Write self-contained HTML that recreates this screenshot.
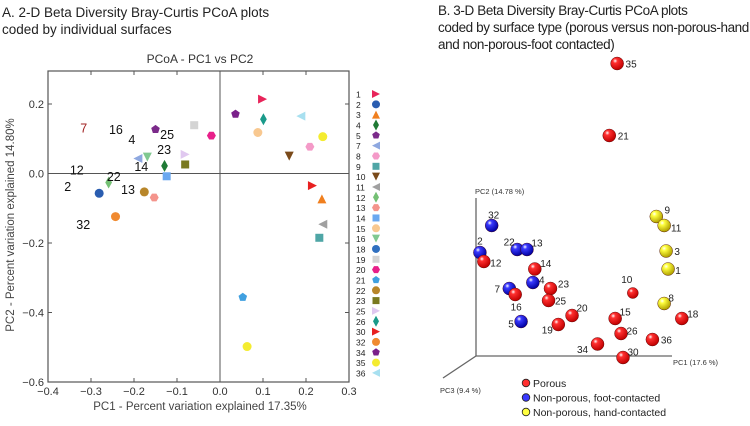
<!DOCTYPE html>
<html><head><meta charset="utf-8">
<style>
html,body{margin:0;padding:0;background:#fff;}
body{width:750px;height:426px;overflow:hidden;position:relative;font-family:"Liberation Sans",sans-serif;}
.hd{position:absolute;font-size:13.5px;color:#222;line-height:17px;white-space:nowrap;}
</style></head>
<body>
<div class="hd" style="left:2px;top:4px;">A. 2-D Beta Diversity Bray-Curtis PCoA plots<br>coded by individual surfaces</div>
<div class="hd" style="left:438px;top:2px;letter-spacing:-0.4px;">B. 3-D Beta Diversity Bray-Curtis PCoA plots<br>coded by surface type (porous versus non-porous-hand<br>and non-porous-foot contacted)</div>
<svg id="chart" width="750" height="426" style="position:absolute;left:0;top:0" xmlns="http://www.w3.org/2000/svg"></svg>
<script>
// ---------- Panel A data ----------
const aIds = ["1","34","26","36","15","35","8","10","30","3","11","9","21","35b","5","19","20","7","16","4","25","23","14","12","2","22","13","32"];
const aPC1 = [0.099,0.036,0.101,0.188,0.088,0.239,0.209,0.161,0.215,0.237,0.239,0.231,0.053,0.063,-0.150,-0.060,-0.020,-0.191,-0.169,-0.129,-0.081,-0.081,-0.124,-0.259,-0.281,-0.176,-0.153,-0.243];
const aPC2 = [0.214,0.171,0.156,0.165,0.118,0.106,0.077,0.050,-0.035,-0.073,-0.146,-0.185,-0.356,-0.498,0.127,0.139,0.109,0.043,0.047,0.022,0.055,0.026,-0.008,-0.026,-0.057,-0.053,-0.069,-0.124];
const xTicks = [-0.4,-0.3,-0.2,-0.1,0.0,0.1,0.2,0.3];
const xTickLabels = ["\u22120.4","\u22120.3","\u22120.2","\u22120.1","0.0","0.1","0.2","0.3"];
const yTicks = [0.2,0.0,-0.2,-0.4,-0.6];
const yTickLabels = ["0.2","0.0","\u22120.2","\u22120.4","\u22120.6"];
const legendIds = ["1","2","3","4","5","7","8","9","10","11","12","13","14","15","16","18","19","20","21","22","23","25","26","30","32","34","35","36"];
const textLabels = ["7","16","4","25","23","14","12","22","2","13","32"];
const textLabelPC1 = [-0.317,-0.242,-0.205,-0.123,-0.130,-0.183,-0.333,-0.247,-0.354,-0.214,-0.318];
const textLabelPC2 = [0.133,0.128,0.100,0.113,0.070,0.022,0.011,-0.007,-0.036,-0.045,-0.146];
// ---------- Panel B data ----------
const bIds = ["32","2","12","22","13","14","4","23","7","16","25","5","20","19","10","15","26","34","30","36","18","9","11","3","1","8","35","21"];
const bPC1 = [8,2,4,21,26,30,29,38,17,20,37,23,49,42,80,71,74,62,75,90,105,92,96,97,98,96,72,68];
const bPC2 = [87,69,63,71,71,58,49,45,45,41,37,23,27,21,42,25,15,8,-1,11,25,93,87,70,58,35,195,147];
const bGroup = ["F","F","P","F","F","P","F","P","F","P","P","F","P","P","P","P","P","P","P","P","P","H","H","H","H","H","P","P"];
const groupNames = ["Porous","Non-porous,  foot-contacted","Non-porous,  hand-contacted"];
const groupKeys = ["P","F","H"];

// ---------- styles (not data) ----------
const styleMap = {
 "1":["#e8245a","tr"],"2":["#2a5db0","c"],"3":["#f07f1e","tu"],"4":["#1f7a35","d"],"5":["#7b2a8a","p"],
 "7":["#8ea8e0","tl"],"8":["#f49ac8","h"],"9":["#4fa6a6","s"],"10":["#7a4a1a","td"],"11":["#a0a0a0","tl"],
 "12":["#74c074","d"],"13":["#f4948c","h"],"14":["#6aa8f0","s"],"15":["#f8c890","c"],"16":["#80c890","td"],
 "18":["#3070c0","c"],"19":["#d4d4d4","s"],"20":["#e8208a","h"],"21":["#40a0e0","p"],"22":["#b8862a","c"],
 "23":["#7a7a20","s"],"25":["#e0c8f0","tr"],"26":["#1a9a8a","d"],"30":["#e82020","tr"],"32":["#f08a30","c"],
 "34":["#7a208a","p"],"35":["#f4ec30","c"],"35b":["#f4ec30","c"],"36":["#a8e0f0","tl"]
};
const groupColor = {P:["#ff3030","#c00000"],F:["#3a3aff","#0000a0"],H:["#ffff40","#b0a000"]};
const NS="http://www.w3.org/2000/svg";
const svg=document.getElementById('chart');
function mk(tag,attrs,parent){const e=document.createElementNS(NS,tag);for(const k in attrs)e.setAttribute(k,attrs[k]);(parent||svg).appendChild(e);return e;}

const defs=mk('defs',{});
for(const g of groupKeys){
 const rg=mk('radialGradient',{id:'g'+g,cx:'35%',cy:'30%',r:'70%'},defs);
 mk('stop',{offset:'0%','stop-color':'#ffffff'},rg);
 mk('stop',{offset:'25%','stop-color':groupColor[g][0]},rg);
 mk('stop',{offset:'100%','stop-color':groupColor[g][1]},rg);
}

// ---------- Panel A axes ----------
const ax=v=>220+v*430;
const ay=v=>173.5-v*347.5;
const L=ax(-0.4),R=ax(0.3),T=71,B=ay(-0.6);
const frame=mk('rect',{x:L,y:T,width:R-L,height:B-T,fill:'none',stroke:'#555','stroke-width':1.2});


const zx=mk('line',{x1:ax(0),x2:ax(0),y1:T,y2:B,stroke:'#555','stroke-width':1});


const zy=mk('line',{x1:L,x2:R,y1:ay(0),y2:ay(0),stroke:'#555','stroke-width':1});


xTicks.forEach((v,i)=>{
 const x=ax(v);
 mk('line',{x1:x,x2:x,y1:B,y2:B-4,stroke:'#555'});
 mk('line',{x1:x,x2:x,y1:T,y2:T+4,stroke:'#555'});
 const t=mk('text',{x:x,y:B+13,'font-size':11,'text-anchor':'middle',fill:'#333'});
 t.textContent=xTickLabels[i];
 
 
});
yTicks.forEach((v,i)=>{
 const y=ay(v);
 mk('line',{x1:L,x2:L+4,y1:y,y2:y,stroke:'#555'});
 mk('line',{x1:R,x2:R-4,y1:y,y2:y,stroke:'#555'});
 const t=mk('text',{x:L-4,y:y+4,'font-size':11,'text-anchor':'end',fill:'#333'});
 t.textContent=yTickLabels[i];
 
 
});
let t=mk('text',{x:200,y:63,'font-size':12,'text-anchor':'middle',fill:'#333'});
t.textContent='PCoA - PC1 vs PC2';


t=mk('text',{x:200,y:410,'font-size':11.5,'text-anchor':'middle',fill:'#444'});
t.textContent='PC1 - Percent variation explained 17.35%';


t=mk('text',{x:0,y:0,'font-size':11.5,'text-anchor':'middle',fill:'#444',transform:'translate(14,225) rotate(-90)'});
t.textContent='PC2 - Percent variation explained 14.80%';



function marker(x,y,col,shape,s,parent){
 s=s||4.5;
 let e;
 if(shape==='c') e=mk('circle',{cx:x,cy:y,r:s},parent);
 else if(shape==='s') e=mk('rect',{x:x-s+0.5,y:y-s+0.5,width:2*s-1,height:2*s-1},parent);
 else {
  let pts;
  if(shape==='tr') pts=[[x-s,y-s],[x+s,y],[x-s,y+s]];
  else if(shape==='tl') pts=[[x+s,y-s],[x-s,y],[x+s,y+s]];
  else if(shape==='tu') pts=[[x-s,y+s],[x,y-s],[x+s,y+s]];
  else if(shape==='td') pts=[[x-s,y-s],[x,y+s],[x+s,y-s]];
  else if(shape==='d') pts=[[x,y-s-1.5],[x+s*0.75,y],[x,y+s+1.5],[x-s*0.75,y]];
  else if(shape==='p'){pts=[];for(let k=0;k<5;k++){const a=-Math.PI/2+k*2*Math.PI/5;pts.push([x+s*Math.cos(a),y+s*Math.sin(a)]);}}
  else {pts=[];for(let k=0;k<6;k++){const a=k*Math.PI/3;pts.push([x+s*Math.cos(a),y+s*Math.sin(a)]);}}
  e=mk('polygon',{points:pts.map(p=>p.join(',')).join(' ')},parent);
 }
 e.setAttribute('fill',col);
 return e;
}
aIds.forEach((id,i)=>{
 const st=styleMap[id];
 const m=marker(ax(aPC1[i]),ay(aPC2[i]),st[0],st[1]);
 
 
});
textLabels.forEach((s,i)=>{
 const tt=mk('text',{x:ax(textLabelPC1[i]),y:ay(textLabelPC2[i])+5,'font-size':12.5,'text-anchor':'middle',fill:s==='7'?'#a02020':'#111'});
 tt.textContent=s;
 
 
});
legendIds.forEach((id,i)=>{
 const y=94+i*10.33;
 const st=styleMap[id];
 const tt=mk('text',{x:356,y:y+3.5,'font-size':8.5,fill:'#222'});
 tt.textContent=id;
 
 
 const m=marker(376,y,st[0],st[1],4);
 
 
});

// ---------- Panel B ----------
const bx=v=>476+v*1.96;
const by=v=>356-v*1.5;
let ln=mk('line',{x1:476,y1:198,x2:476,y2:356,stroke:'#666','stroke-width':1.3});


ln=mk('line',{x1:476,y1:356,x2:672,y2:356,stroke:'#666','stroke-width':1.3});


ln=mk('line',{x1:476,y1:356,x2:443,y2:378,stroke:'#666','stroke-width':1.3});


t=mk('text',{x:475,y:194,'font-size':7.5,fill:'#333'});t.textContent='PC2 (14.78 %)';


t=mk('text',{x:673,y:365,'font-size':7.5,fill:'#333'});t.textContent='PC1 (17.6 %)';


t=mk('text',{x:440,y:393,'font-size':7.5,fill:'#333'});t.textContent='PC3 (9.4 %)';


const labelDx={"32":2,"2":0,"12":12,"22":-8,"13":10,"14":11,"4":9,"23":13,"7":-12,"16":1,"25":12,"5":-10,"20":10,"19":-11,"10":-6,"15":10,"26":11,"34":-15,"30":10,"36":14,"18":11,"9":11,"11":12,"3":11,"1":10,"8":7,"35":14,"21":14};
const labelDy={"32":-11,"2":-12,"12":1,"22":-8,"13":-7,"14":-6,"4":-3,"23":-5,"7":0,"16":12,"25":0,"5":2,"20":-8,"19":5,"10":-14,"15":-7,"26":-3,"34":5,"30":-6,"36":0,"18":-5,"9":-7,"11":2,"3":0,"1":1,"8":-6,"35":0,"21":0};
bIds.forEach((id,i)=>{
 const x=bx(bPC1[i]),y=by(bPC2[i]);
 const c=mk('circle',{cx:x,cy:y,r:id==='10'?5.5:6.5,fill:'url(#g'+bGroup[i]+')',stroke:'#400','stroke-width':0.4});
 
 
 const tt=mk('text',{x:x+labelDx[id],y:y+labelDy[id]+4,'font-size':10,'text-anchor':'middle',fill:'#222'});
 tt.textContent=id;
 
 
});
groupKeys.forEach((g,i)=>{
 const y=383+i*14.5;
 const c=mk('circle',{cx:526,cy:y,r:3.8,fill:groupColor[g][0],stroke:'#222','stroke-width':0.8});
 
 
 const tt=mk('text',{x:533,y:y+4,'font-size':10.5,fill:'#222'});
 tt.textContent=groupNames[i];
 
 
});
</script>
</body></html>
